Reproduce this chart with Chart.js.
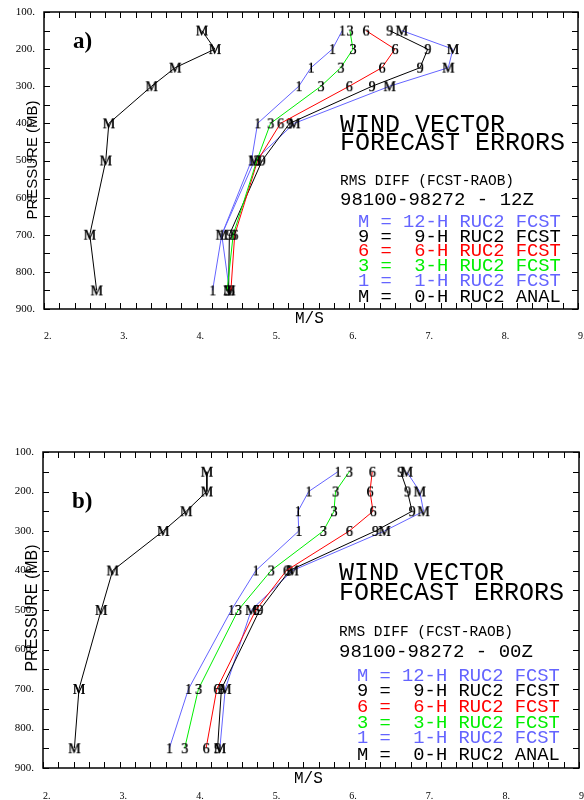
<!DOCTYPE html>
<html>
<head>
<meta charset="utf-8">
<script src="https://cdn.jsdelivr.net/npm/chart.js@4.4.1/dist/chart.umd.min.js"></script>
<style>
  body { margin: 0; background: #fff; width: 584px; height: 800px; overflow: hidden; }
  canvas { display: block; }
</style>
</head>
<body>
<canvas id="chartA" width="584" height="400"></canvas>
<canvas id="chartB" width="584" height="400"></canvas>
<script>
// pressure levels (mb), top to bottom
const levels = [150, 200, 250, 300, 400, 500, 700, 850];

// a) 12Z  rms vector diff (m/s)
const anlA  = [4.07, 4.24, 3.72, 3.41, 2.85, 2.81, 2.60, 2.69];
const f1hA  = [5.91, 5.78, 5.50, 5.34, 4.80, 4.72, 4.33, 4.21];
const f3hA  = [6.01, 6.05, 5.89, 5.63, 4.97, 4.79, 4.48, 4.40];
const f6hA  = [6.22, 6.60, 6.43, 6.00, 5.10, 4.80, 4.50, 4.45];
const f9hA  = [6.53, 7.03, 6.93, 6.30, 5.22, 4.86, 4.43, 4.42];
const f12hA = [6.69, 7.36, 7.30, 6.53, 5.28, 4.76, 4.33, 4.43];

// b) 00Z
const anlB  = [4.14, 4.14, 3.87, 3.57, 2.91, 2.76, 2.47, 2.41];
const f1hB  = [5.85, 5.47, 5.33, 5.34, 4.78, 4.46, 3.90, 3.65];
const f3hB  = [6.00, 5.82, 5.80, 5.66, 4.98, 4.55, 4.03, 3.85];
const f6hB  = [6.30, 6.27, 6.31, 6.00, 5.18, 4.78, 4.27, 4.13];
const f9hB  = [6.67, 6.76, 6.82, 6.34, 5.22, 4.83, 4.33, 4.28];
const f12hB = [6.75, 6.92, 6.97, 6.46, 5.26, 4.72, 4.38, 4.31];

const BLUE = '#6464ff', GREEN = '#00ee00', RED = '#ff0000', BLACK = '#000000';

// marker letter + line colour per series (anl, 1, 3, 6, 9, 12)
const seriesKeys   = ['M', '1', '3', '6', '9', 'M'];
const seriesColors = [BLACK, BLUE, GREEN, RED, BLACK, BLUE];

const legendRows = [
  'M = 12-H RUC2 FCST',
  '9 =  9-H RUC2 FCST',
  '6 =  6-H RUC2 FCST',
  '3 =  3-H RUC2 FCST',
  '1 =  1-H RUC2 FCST',
  'M =  0-H RUC2 ANAL'
];
const legendColors = [BLUE, BLACK, RED, GREEN, BLUE, BLACK];

// letter used as point marker
function letterPoint(ch) {
  const c = document.createElement('canvas');
  c.width = 16; c.height = 14;
  const g = c.getContext('2d');
  g.font = '14px "Liberation Serif"';
  g.fillStyle = '#000';
  g.textAlign = 'center';
  g.textBaseline = 'alphabetic';
  g.fillText(ch, 8, 11.8);
  g.fillText(ch, 8.3, 11.8);
  return c;
}

function makePanel(id, series, cfg) {
  const datasets = series.map((vals, i) => ({
    data: levels.map((p, j) => ({ x: vals[j], y: p })),
    showLine: true,
    borderColor: seriesColors[i],
    borderWidth: 1,
    pointStyle: letterPoint(seriesKeys[i]),
    fill: false
  }));

  // frame, inward ticks and annotation text
  const deco = {
    id: 'deco',
    afterDraw(chart) {
      const { ctx, chartArea: a, scales } = chart;
      ctx.save();
      ctx.strokeStyle = '#000';
      ctx.lineWidth = 1;
      ctx.beginPath();
      scales.x.ticks.forEach(t => {
        const px = Math.round(scales.x.getPixelForValue(t.value)) + 0.5;
        ctx.moveTo(px, a.bottom); ctx.lineTo(px, a.bottom - 6);
        ctx.moveTo(px, a.top); ctx.lineTo(px, a.top + 6);
      });
      scales.y.ticks.forEach(t => {
        const py = Math.round(scales.y.getPixelForValue(t.value)) + 0.5;
        ctx.moveTo(a.left, py); ctx.lineTo(a.left + 6, py);
        ctx.moveTo(a.right, py); ctx.lineTo(a.right - 6, py);
      });
      ctx.stroke();
      ctx.lineWidth = 1.5;
      ctx.strokeRect(a.left, a.top, a.right - a.left, a.bottom - a.top);

      ctx.fillStyle = '#000';
      ctx.textBaseline = 'alphabetic';
      ctx.textAlign = 'left';

      ctx.font = 'bold 23px "Liberation Serif"';
      ctx.fillText(cfg.tag, cfg.tagX, cfg.tagY);

      ctx.font = '25px "Liberation Mono"';
      ctx.fillText('WIND VECTOR', cfg.tx, cfg.t1);
      ctx.fillText('FORECAST ERRORS', cfg.tx, cfg.t2);
      ctx.font = '14.5px "Liberation Mono"';
      ctx.fillText('RMS DIFF (FCST-RAOB)', cfg.tx, cfg.t3);
      ctx.font = '19px "Liberation Mono"';
      ctx.fillText(cfg.period, cfg.tx, cfg.t4);

      ctx.font = '18.8px "Liberation Mono"';
      legendRows.forEach((row, i) => {
        ctx.fillStyle = legendColors[i];
        ctx.fillText(row, cfg.lx, cfg.rows[i]);
      });

      ctx.fillStyle = '#000';
      ctx.font = '16px "Liberation Mono"';
      ctx.fillText('M/S', cfg.msX, cfg.msY);

      ctx.translate(cfg.pX, cfg.pY);
      ctx.rotate(-Math.PI / 2);
      ctx.textAlign = 'center';
      ctx.textBaseline = 'middle';
      ctx.font = cfg.pFont + 'px "Liberation Sans"';
      ctx.fillText('PRESSURE (MB)', 0, 0);
      ctx.restore();
    }
  };

  return new Chart(document.getElementById(id), {
    type: 'scatter',
    data: { datasets },
    options: {
      responsive: false,
      animation: false,
      events: [],
      layout: { padding: { top: cfg.top, right: cfg.right, left: 0, bottom: 0 } },
      plugins: { legend: { display: false }, tooltip: { enabled: false } },
      scales: {
        x: {
          type: 'linear', min: 2, max: 9,
          grid: { display: false, drawTicks: false },
          border: { display: false },
          afterFit: s => { s.height = cfg.xh; s.paddingLeft = 0; s.paddingRight = 0; },
          ticks: {
            stepSize: 0.2, autoSkip: false, maxRotation: 0, align: 'start',
            padding: cfg.xpad, color: '#000',
            font: { family: 'Liberation Serif', size: 10 },
            callback: v => Math.abs(v - Math.round(v)) < 1e-6 ? Math.round(v) + '.' : ''
          }
        },
        y: {
          type: 'linear', reverse: true, min: 100, max: 900,
          grid: { display: false, drawTicks: false },
          border: { display: false },
          afterFit: s => { s.width = cfg.yw; s.paddingTop = 0; s.paddingBottom = 0; },
          ticks: {
            stepSize: 50, autoSkip: false, padding: 9, color: '#000',
            font: { family: 'Liberation Serif', size: 11 },
            callback: v => v % 100 === 0 ? v + '.' : ''
          }
        }
      }
    },
    plugins: [deco]
  });
}

makePanel('chartA', [anlA, f1hA, f3hA, f6hA, f9hA, f12hA], {
  top: 12, right: 6, xh: 91, yw: 44, xpad: 21,
  tag: 'a)', tagX: 73, tagY: 48,
  period: '98100-98272 - 12Z',
  tx: 340, t1: 131.5, t2: 149.5, t3: 185, t4: 205,
  lx: 358, rows: [226.5, 241.5, 256, 271, 285.5, 301.5],
  msX: 295, msY: 323,
  pX: 33, pY: 160, pFont: 15
});

makePanel('chartB', [anlB, f1hB, f3hB, f6hB, f9hB, f12hB], {
  top: 52, right: 4, xh: 32, yw: 43, xpad: 22,
  tag: 'b)', tagX: 72, tagY: 108,
  period: '98100-98272 - 00Z',
  tx: 339, t1: 180, t2: 199.5, t3: 236, t4: 256.5,
  lx: 357, rows: [281, 295.5, 312, 327.7, 343.3, 360],
  msX: 294, msY: 383,
  pX: 33, pY: 208, pFont: 16
});
</script>
</body>
</html>
